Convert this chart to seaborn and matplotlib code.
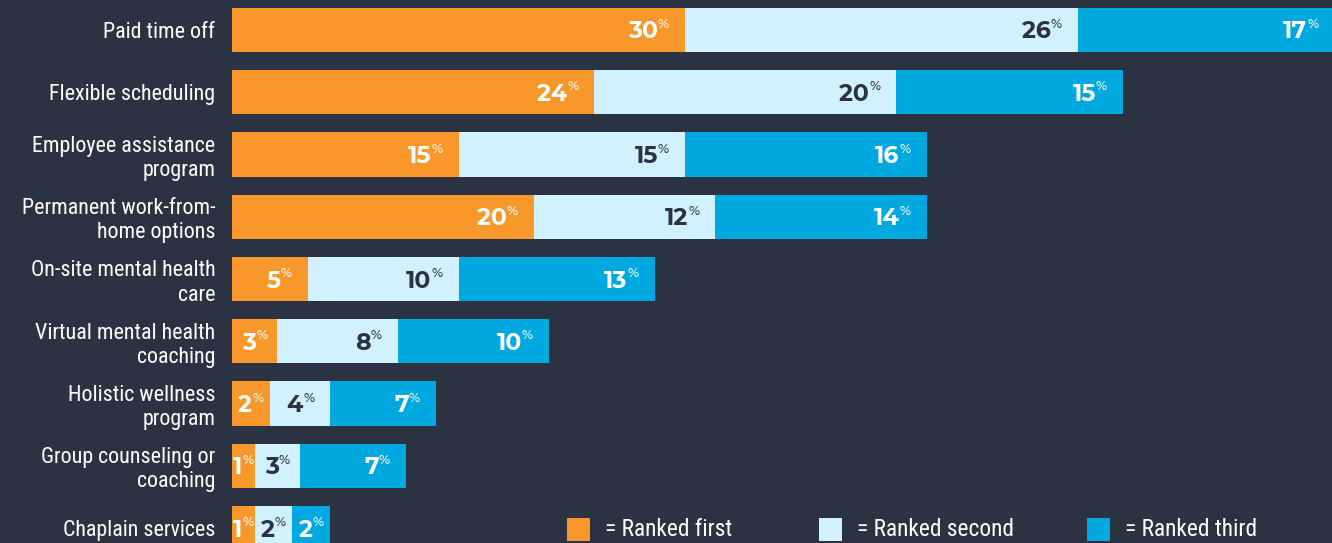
import matplotlib
matplotlib.use("Agg")
import matplotlib.pyplot as plt
from matplotlib.patches import Rectangle
import seaborn as sns
import pandas as pd
import numpy as np

# Data (bar lengths, and the rounded numbers printed on them)
categories = ["Paid time off", "Flexible scheduling", "Employee assistance\nprogram",
              "Permanent work-from-\nhome options", "On-site mental health\ncare",
              "Virtual mental health\ncoaching", "Holistic wellness\nprogram",
              "Group counseling or\ncoaching", "Chaplain services"]
ranked_first = [30, 24, 15, 20, 5, 3, 2.5, 1.5, 1.5]
ranked_second = [26, 20, 15, 12, 10, 8, 4, 3, 2.5]
ranked_third = [17, 15, 16, 14, 13, 10, 7, 7, 2.5]
labels_first = [30, 24, 15, 20, 5, 3, 2, 1, 1]
labels_second = [26, 20, 15, 12, 10, 8, 4, 3, 2]
labels_third = [17, 15, 16, 14, 13, 10, 7, 7, 2]
series_names = ["Ranked first", "Ranked second", "Ranked third"]

bg = "#2b3342"
colors = ["#f9982a", "#d0f1fd", "#00a8e0"]
text_colors = ["white", bg, "white"]

label_font = ["Roboto Condensed", "Archivo Narrow", "Barlow Condensed", "DejaVu Sans"]
num_font = ["Montserrat Alternates", "DejaVu Sans"]

df = pd.DataFrame({"category": categories, "first": ranked_first,
                   "second": ranked_second, "third": ranked_third})
df["c1"] = df["first"]
df["c2"] = df["first"] + df["second"]
df["c3"] = df["c2"] + df["third"]

fig = plt.figure(figsize=(13.32, 5.43), dpi=100, facecolor=bg)
ax = fig.add_axes([232 / 1332, 0, 1100 / 1332, 1])
ax.set_facecolor(bg)

# stacked bars: draw the cumulative totals, widest first
for col, c in zip(["c3", "c2", "c1"], colors[::-1]):
    sns.barplot(data=df, x=col, y="category", orient="h", color=c,
                width=0.71, saturation=1, ax=ax, edgecolor="none", linewidth=0)

ax.set_xlim(0, 1100 / 15.1)
ax.set_ylim(8.24, -0.48)
ax.set_xlabel("")
ax.set_ylabel("")
ax.set_xticks([])
for s in ax.spines.values():
    s.set_visible(False)
ax.tick_params(axis="y", length=0, pad=12)
for lab in ax.get_yticklabels():
    lab.set_fontfamily(label_font)
    lab.set_fontsize(15.8)
    lab.set_color("white")
    lab.set_linespacing(1.2)
    lab.set_ha("right")

# value labels: number + small % at the right end of each segment
fig.canvas.draw()
renderer = fig.canvas.get_renderer()
px_per_unit = ax.get_window_extent().width / (ax.get_xlim()[1] - ax.get_xlim()[0])
pt = 72 / 100

starts = [np.zeros(len(df)), df["c1"].values, df["c2"].values]
values = [ranked_first, ranked_second, ranked_third]
shown = [labels_first, labels_second, labels_third]
for k in range(3):
    for i in range(len(df)):
        v = values[k][i]
        end = starts[k][i] + v
        seg_px = v * px_per_unit
        num = ax.annotate(str(shown[k][i]), xy=(end, i), xytext=(0, 0), textcoords="offset points",
                          ha="right", va="baseline", fontsize=17, fontweight="bold",
                          family=num_font, color=text_colors[k], annotation_clip=False)
        pct = ax.annotate("%", xy=(end, i), xytext=(0, 0), textcoords="offset points",
                          ha="right", va="baseline", fontsize=9.5, fontweight="medium",
                          family=num_font, color=text_colors[k], annotation_clip=False)
        nw = num.get_window_extent(renderer).width
        pw = pct.get_window_extent(renderer).width
        tw = nw + pw
        pad = min(16, (seg_px - tw) / 2)
        pct.set_position((-pad * pt, 1.8 * pt))
        num.set_position((-(pad + pw) * pt, -8.6 * pt))

# legend at the bottom right
leg_x = [567, 819, 1087]
for x, c, name in zip(leg_x, colors, series_names):
    fig.patches.append(Rectangle((x / 1332, 1 - 541 / 543), 23 / 1332, 23 / 543,
                                 transform=fig.transFigure, facecolor=c, edgecolor="none"))
    fig.text((x + 38) / 1332, 1 - 529 / 543, "= " + name, family=label_font,
             fontsize=16.8, color="white", va="center", ha="left")

fig.savefig("out.png", dpi=100, facecolor=bg)
